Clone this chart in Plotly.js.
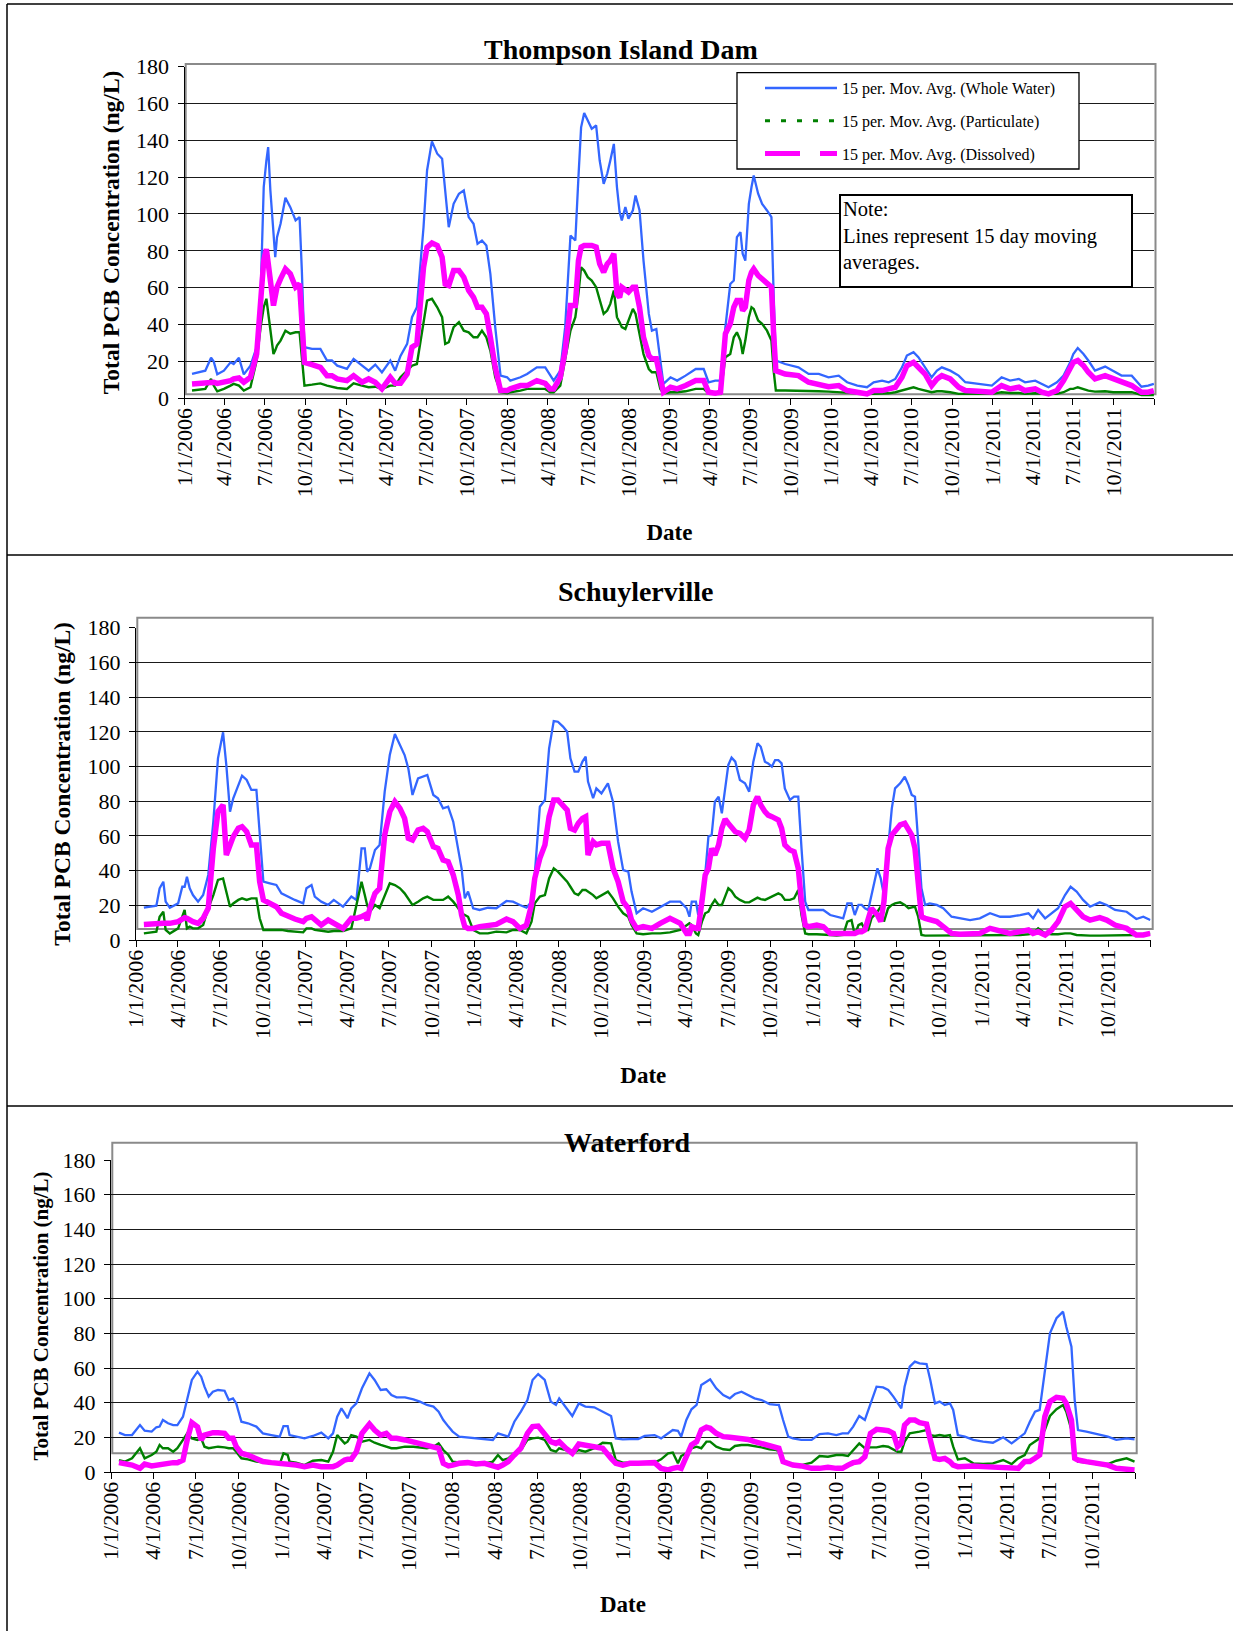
<!DOCTYPE html>
<html>
<head>
<meta charset="utf-8">
<script src="https://cdn.plot.ly/plotly-3.0.1.min.js"></script>
<style>html,body{margin:0;padding:0;background:#fff;}</style>
</head>
<body>
<div id="chart" style="width:1233px;height:1631px;"></div>
<script>
// ---------------- DATA ----------------
// Thompson Island Dam
const tidDates = [
'2006-01-18','2006-02-17','2006-03-02','2006-03-08','2006-03-16','2006-03-31','2006-04-15','2006-04-22','2006-05-04','2006-05-15',
'2006-05-30','2006-06-13','2006-06-22','2006-06-29','2006-07-05','2006-07-09','2006-07-14','2006-07-21','2006-07-25','2006-07-29',
'2006-08-06','2006-08-17','2006-08-28','2006-09-09','2006-09-18','2006-09-23','2006-09-29','2006-10-16','2006-11-04','2006-11-19',
'2006-11-30','2006-12-12',
'2007-01-03','2007-01-18','2007-02-06','2007-02-21','2007-03-08','2007-03-23','2007-04-11','2007-04-22','2007-05-04','2007-05-19',
'2007-05-30','2007-06-10','2007-06-25','2007-07-03','2007-07-14','2007-07-26','2007-08-06','2007-08-13','2007-08-21','2007-09-01',
'2007-09-13','2007-09-24','2007-10-05','2007-10-16','2007-10-25','2007-11-04','2007-11-14','2007-11-23','2007-12-04','2007-12-16',
'2007-12-31',
'2008-01-07','2008-01-30','2008-02-14','2008-03-07','2008-03-26','2008-04-06','2008-04-14','2008-04-29','2008-05-10','2008-05-22',
'2008-06-02','2008-06-09','2008-06-15','2008-06-22','2008-06-30','2008-07-09','2008-07-19','2008-07-27','2008-08-05','2008-08-13',
'2008-08-20','2008-08-28','2008-09-04','2008-09-10','2008-09-15','2008-09-23','2008-09-30','2008-10-10','2008-10-16','2008-10-25',
'2008-11-03','2008-11-15','2008-11-22','2008-12-02','2008-12-11','2008-12-18',
'2009-01-03','2009-01-18','2009-02-06','2009-03-01','2009-03-19','2009-03-30','2009-04-14','2009-04-26','2009-05-07','2009-05-18',
'2009-05-26','2009-06-02','2009-06-10','2009-06-15','2009-06-21','2009-06-29','2009-07-05','2009-07-10','2009-07-20','2009-07-29',
'2009-08-09','2009-08-19','2009-08-24','2009-08-29','2009-09-19','2009-10-19','2009-11-11','2009-12-04','2009-12-26',
'2010-01-18','2010-02-06','2010-03-01','2010-03-23','2010-04-07','2010-04-26','2010-05-11','2010-05-26','2010-06-10','2010-06-21',
'2010-07-06','2010-07-17','2010-08-01','2010-08-16','2010-08-28','2010-09-08','2010-09-27','2010-10-16','2010-10-31','2010-11-30',
'2010-12-30',
'2011-01-21','2011-02-09','2011-03-01','2011-03-15','2011-04-07','2011-04-22','2011-05-07','2011-05-26','2011-06-10','2011-06-25',
'2011-07-02','2011-07-12','2011-07-25','2011-08-05','2011-08-20','2011-09-12','2011-09-30','2011-10-19','2011-11-11','2011-12-03',
'2011-12-18','2011-12-31'
];
const tidWhole = [
13.2,15,22,20,13,15,19.5,18.6,22,13, 17.7,27.7,56.6,114.6,129,136.3,112.8,89,76.6,87.4, 94.7,108.8,103.7,96.5,98.3,70,27.7,26.8,26.8,20.5, 20.5,17.7,
16,21.4,17.7,15,18.3,14.1,20.5,15,23,29.5, 44,49.4,92.8,123.6,139.4,132.7,130,111,92.8,105.5, 111,112.8,98.3,94.7,83.8,85.6,82.9,67.5,38.6,12.3, 11.4,
9.6,11.4,13.2,16.8,16.8,12.3,9.6,15,38.6,88.3, 85.6,120,147,154.8,150.8,146.2,148,129,116.4,121.8, 129,138,114.6,101,96.5,103.7,97.4,102,110,102, 74.7,45.8,36.7,37.6,20.5,7.8,
11.4,9.6,12.3,15.9,15.9,8.7,9.6,9.6,38.6,62, 63.9,87.4,90.1,78.4,74.7,105.5,114.6,120.9,111,105.5, 101.9,98.3,56.6,20.5,18.6,16.8,13.2,13.2,11.4,
12.3,8.7,6.9,6,8.7,9.6,8.7,10.5,16.8,23.2, 25,22.3,16.8,11.4,15,16.8,15,12.3,8.7,7.8, 6.9,
11.4,9.6,10.5,8.7,9.6,7.8,6,8.7,12.3,19.5, 24,27.3,24,20.5,15,17.2,15,12.3,12.3,6.3, 6.9,7.8
];
const tidParticulate = [
4.2,5.1,10.5,6.9,3.8,5.1,6.9,7.8,6.9,4.2, 6,20.5,38.6,49.4,54,45.8,38.6,24,26,28.6, 31.3,36.7,35,35.8,35.8,20.5,6.9,7.4,8.1,6.9, 6.3,5.6,
5.1,8.1,6.9,6,6.3,5.1,6.9,6.9,11.4,15, 17.7,18.6,42.2,53,54,49.4,44,29.5,30.4,38.6, 41.3,36.7,35.8,33.1,33.1,36.7,33.1,25.9,11.4,3.3, 2.7,
3.3,4.2,5.1,5.1,5.1,3.3,3.3,6.9,20.5,36.7, 44,56.6,71.1,69.3,65.7,63.9,60.3,53,45.8,47.6, 51.2,58.5,44,41.3,38.6,37.6,42.2,48.5,45.8,35, 24,15.9,14.1,14.1,5.1,2.7,
3.3,3.3,3.8,5.1,5.1,2.7,2.4,2.4,22.3,24, 33.1,35.8,31.3,24,31.3,44,49.4,48.5,42.2,40.4, 36.7,31.3,15,4.2,4.2,4.2,3.8,3.8,3.6,
3.3,2.7,2.4,2.4,2.4,2.4,2.7,3.3,4.2,5.1, 6,5.1,4.2,3.3,3.8,3.8,3.3,2.4,2.4,2.4, 2.4,
3.3,2.9,2.9,2.4,2.7,2.4,2.4,2.4,3.3,5.1, 5.1,6,5.1,4.2,3.6,3.8,3.3,3.3,3.3,1.8, 1.8,1.8
];
const tidDissolved = [
7.8,8.7,9.2,8.7,8.1,8.7,9.6,10.5,11,8.7, 11.4,24,56.6,74.7,81,74.7,64,50.3,54.8,60.3, 64.8,70.2,67.5,60.3,62,38.6,19.5,18.3,16.8,12.3, 12.3,10.5,
9.6,12.3,8.7,10.5,8.7,5.1,11.4,8.1,8.1,13.2, 27.7,29.5,71,82,84.2,82.9,76.6,62,61.2,69.3, 69.3,65.7,58.5,54.8,49.4,49.4,45.8,33.1,16.8,4.2, 4.2,
5.1,6.9,6.9,9.6,8.1,5.1,5.1,11.4,25.9,50.3, 50.3,74.7,82,82.9,82.9,82.9,82,72.9,68.4,72.9, 74.7,78.4,56.6,54.8,60.3,58.5,57.6,60.3,60.3,49.4, 33.1,23.2,21.4,21.4,9.6,3.3,
6,5.1,6.9,9.6,9.6,3.3,2.7,3.3,35,40.4, 49.4,53,53,47.6,49.4,64,68.4,70.2,66.6,64.8, 63,60.3,35,15,13.2,12.3,8.7,7.8,6.3,
6.9,4.2,3.3,2.4,4.2,4.2,5.1,6,11.4,17.7, 19.5,16.8,13.2,6.9,10.5,12.3,10.5,6,4.2,3.8, 3.3,
6.9,5.1,6,4.2,5.1,3.3,2.4,4.2,9.6,15.9, 19.5,20.5,17.7,14.1,10.5,12.3,10.5,8.7,6.9,3.3, 3.3,4.2
];

// Schuylerville
const schDates = [
'2006-01-18','2006-02-14','2006-02-21','2006-03-01','2006-03-06','2006-03-15','2006-04-02','2006-04-11','2006-04-16','2006-04-21',
'2006-04-27','2006-05-04','2006-05-15','2006-05-26','2006-06-06','2006-06-17','2006-06-27','2006-07-08','2006-07-15','2006-07-23',
'2006-07-30','2006-08-10','2006-08-18','2006-08-28','2006-09-07','2006-09-18','2006-09-25','2006-10-03','2006-10-17','2006-10-31',
'2006-11-11','2006-11-25','2006-12-10','2006-12-28',
'2007-01-04','2007-01-15','2007-01-22','2007-02-05','2007-02-20','2007-03-04','2007-03-24','2007-04-11','2007-04-22','2007-05-03',
'2007-05-10','2007-05-15','2007-05-21','2007-06-01','2007-06-11','2007-06-22','2007-07-03','2007-07-14','2007-07-25','2007-08-04',
'2007-08-12','2007-08-21','2007-09-02','2007-09-13','2007-09-22','2007-10-05','2007-10-15','2007-10-26','2007-11-06','2007-11-17',
'2007-11-28','2007-12-05','2007-12-12','2007-12-19','2007-12-30',
'2008-01-13','2008-01-31','2008-02-18','2008-03-11','2008-03-25','2008-04-09','2008-04-23','2008-05-04','2008-05-11','2008-05-22',
'2008-06-02','2008-06-11','2008-06-21','2008-06-30','2008-07-11','2008-07-20','2008-07-27','2008-08-05','2008-08-13','2008-08-22',
'2008-08-29','2008-09-03','2008-09-14','2008-09-21','2008-10-02','2008-10-16','2008-10-27','2008-11-07','2008-11-18','2008-11-29',
'2008-12-06','2008-12-17','2008-12-31',
'2009-01-19','2009-02-06','2009-02-27','2009-03-21','2009-04-04','2009-04-10','2009-04-15','2009-04-24','2009-04-29','2009-05-07',
'2009-05-14','2009-05-21','2009-05-28','2009-06-04','2009-06-12','2009-06-19','2009-06-26','2009-07-03','2009-07-10','2009-07-18',
'2009-07-28','2009-08-08','2009-08-17','2009-08-26','2009-09-04','2009-09-11','2009-09-20','2009-09-27','2009-10-05','2009-10-12',
'2009-10-19','2009-10-26','2009-11-02','2009-11-13','2009-11-22','2009-12-01','2009-12-08','2009-12-16','2009-12-23',
'2010-01-10','2010-01-24','2010-02-08','2010-02-22','2010-03-08','2010-03-17','2010-03-26','2010-04-02','2010-04-10','2010-04-17',
'2010-04-24','2010-05-01','2010-05-08','2010-05-21','2010-05-28','2010-06-04','2010-06-13','2010-06-21','2010-06-28','2010-07-09',
'2010-07-19','2010-07-27','2010-08-03','2010-08-10','2010-08-17','2010-08-24','2010-09-01','2010-09-11','2010-09-26','2010-10-10',
'2010-10-28','2010-11-15','2010-12-07','2010-12-28',
'2011-01-19','2011-02-10','2011-03-03','2011-03-25','2011-04-12','2011-04-22','2011-05-03','2011-05-18','2011-06-01','2011-06-15',
'2011-06-30','2011-07-12','2011-07-25','2011-08-08','2011-08-23','2011-09-13','2011-09-28','2011-10-16','2011-11-10','2011-12-01',
'2011-12-16','2011-12-31'
];
const schWhole = [
18.6,19.8,29.8,33.6,22.1,18.6,21.1,30.7,30.7,36.5, 29.8,25.9,22.1,25.9,37.5,68.2,104.7,119.7,100.9,74, 81.7,89.3,94.7,92.2,86.5,86.5,62.4,33.6,32.7,31.7, 26.9,25,23.1,21.1,
29.8,31.7,25,22.1,20.2,23.1,19.2,25,23.1,52.8, 52.8,39.4,41.3,51.9,54.8,85.5,106.6,118.7,112.4,106.6, 98.9,83.6,93.2,94.1,95.1,83.6,81.7,75.9,76.8,68.2, 52.8,41.3,24,27.9,18.3,
17.3,18.6,18.3,22.5,22.1,20.2,18.6,22.1,37.5,76.8, 80.7,110.5,126.2,125.8,123,120,104.7,97,97,102.8, 105.7,91.3,81.7,87.4,84.5,90.3,79.7,56.7,40.3,39.4, 27.9,15.4,18.3,
16.3,19.2,22.1,22.1,18.3,13.4,22.1,22.1,14.4,25.9, 37.5,59.6,60.5,79.7,82.6,73,87.4,100.9,105.1,102.8, 92.2,90.3,85.5,102.8,113.4,111.4,102.8,101.8,99.9,103.7, 103.7,101.8,87.4,80.7,82.6,82.6,52.8,22.1,17.3,
17.3,17.3,14.4,13.4,12.5,21.1,21.1,14.4,20.2,20.2, 18.3,17.3,25.9,41.3,35.5,25.9,52.8,75.9,87.4,90.3, 94.1,89.3,83.6,82.6,56.7,29.8,20.2,21.1,20.2,18.3, 13.4,12.5,11.5,12.5,
15.4,13.4,13.4,14.4,15.4,12.5,17.3,12.5,15.4,18.3, 25.9,30.7,27.9,23.1,19.2,21.7,20.2,17.3,16.3,12.1, 13.4,11.5
];
const schParticulate = [
3.8,4.8,13.4,16.3,5.8,3.8,6.7,13.4,17.3,6.7, 7.7,6.7,6.7,8.6,18.3,25.9,34.6,35.5,27.9,19.2, 21.1,23.1,24,23.1,24,24,12.5,5.8,5.8,5.8, 5.8,5.2,4.8,4.4,
6.7,6.7,5.8,5.2,4.8,5.2,5.2,6.7,20.2,33.6, 25.9,20.2,16.3,20.2,18.3,25,32.7,31.7,29.8,26.9, 24,20.2,22.1,24,25,23.1,23.1,23.1,25,22.1, 18.3,15.4,14.4,13.4,5.8,
3.8,3.8,4.8,4.4,5.8,5.8,3.8,10.6,21.1,25, 25.9,35.5,41.3,39.4,36.5,33.6,30.7,26.9,25.9,28.8, 28.8,27.9,25.9,24,25.9,27.9,24,19.2,15.4,13.4, 8.6,3.8,3.3,
3.8,3.8,4.4,5.8,8.6,9.6,8.6,3.8,2.9,10.6, 15.4,16.3,20.2,23.1,20.2,20.2,25,29.8,28.2,25, 23.1,21.7,21.7,23.1,24.4,23.6,23.1,24,25,25.9, 26.9,25.9,23.1,23.1,24,28.8,14.4,3.8,3.3,
3.3,3.3,2.9,2.5,2.9,10.6,11.5,2.9,8.6,9.6, 5.8,5.8,12.5,16.3,19.2,10.6,18.3,20.2,21.1,21.7, 20.2,18.3,18.6,19.2,13.4,2.9,2.5,2.5,2.5,2.5, 2.5,2.5,2.5,2.5,
2.9,2.5,2.5,2.9,3.3,3.8,6.7,3.8,3.3,3.3, 3.8,3.8,2.9,2.5,2.5,2.5,2.5,2.5,2.5,2.9, 3.3,3.8
];
const schDissolved = [
9,9.6,10.2,9.6,9.6,9.6,10.6,12.5,12.9,12.5, 11.5,10.6,9.6,12.5,18.3,52.8,74,77.8,49,54.8, 59.6,64.4,65.3,62.4,54.8,54.8,33.6,23.1,21.1,19.2, 15.4,13.4,12.1,10.6,
12.5,13.4,11.5,8.6,11.5,9.6,6.7,12.5,12.5,13.4, 14.4,11.5,18.3,26.9,29.8,60.5,74,79.7,75.9,70.1, 58.6,57.6,63.4,64.4,62.4,53.8,52.8,46.1,45.1,37.5, 25.9,14.4,7.7,6.7,6.7,
7.7,8.6,9,12.1,10.6,6.7,8.6,20.2,35.5,47.1, 54.8,71.1,80.7,80.7,76.8,74.9,64.4,63.4,67.2,70.1, 71.1,49,56.7,54.8,55.7,55.7,41.3,33.6,22.1,18.3, 11.5,6.7,7.7,
6.7,9.6,12.5,9.6,3.8,3.8,7.7,6.7,6.7,22.1, 37.5,41.3,52.8,49,54.8,64.4,69.7,67.2,64.4,62.4, 61.5,58.6,63.4,77.8,82.6,77.8,74,72,71.1,70.1, 69.2,64.4,54.8,51.9,50.9,41.3,22.1,8.6,7.7,
8.6,7.7,3.8,3.8,3.8,3.8,3.8,3.8,4.8,4.8, 5.8,12.5,18.3,14.4,10.6,22.1,52.8,60.5,62.4,66.3, 67.2,63.4,60.5,52.8,33.6,13.4,12.5,11.5,10.6,7.7, 3.8,3.3,3.3,3.8,
6.7,4.8,3.8,4.8,5.8,3.8,4.8,2.9,5.8,10.6, 19.2,21.1,17.3,13.4,11.5,12.9,11.5,8.6,6.7,2.9, 2.9,3.8
];

// Waterford
const wfdDates = [
'2006-01-18','2006-01-31','2006-02-15','2006-03-04','2006-03-14','2006-03-29','2006-04-08','2006-04-15','2006-04-22','2006-05-03',
'2006-05-14','2006-05-23','2006-06-04','2006-06-13','2006-06-23','2006-07-05','2006-07-13','2006-07-20','2006-07-29','2006-08-07',
'2006-08-18','2006-09-01','2006-09-10','2006-09-19','2006-09-26','2006-10-07','2006-10-21','2006-11-08','2006-11-22','2006-12-10',
'2006-12-28',
'2007-01-05','2007-01-14','2007-01-18','2007-02-01','2007-02-19','2007-03-09','2007-03-27','2007-04-11','2007-04-21','2007-04-30',
'2007-05-09','2007-05-16','2007-05-22','2007-05-30','2007-06-10','2007-06-22','2007-07-08','2007-07-19','2007-08-01','2007-08-13',
'2007-08-24','2007-09-04','2007-09-22','2007-10-10','2007-10-24','2007-11-08','2007-11-22','2007-12-03','2007-12-13','2007-12-24',
'2008-01-02','2008-01-16','2008-02-03','2008-02-21','2008-03-10','2008-03-28','2008-04-08','2008-04-18','2008-04-30','2008-05-13',
'2008-05-27','2008-06-10','2008-06-21','2008-07-03','2008-07-17','2008-07-30','2008-08-10','2008-08-17','2008-08-31','2008-09-14',
'2008-09-28','2008-10-12','2008-10-31','2008-11-18','2008-12-06','2008-12-16','2008-12-31',
'2009-01-15','2009-02-02','2009-02-16','2009-03-09','2009-03-23','2009-04-07','2009-04-17','2009-04-28','2009-05-05','2009-05-16',
'2009-05-27','2009-06-07','2009-06-17','2009-06-28','2009-07-06','2009-07-19','2009-08-03','2009-08-17','2009-08-28','2009-09-11',
'2009-09-25','2009-10-09','2009-10-24','2009-11-10','2009-11-25','2009-11-30','2009-12-09','2009-12-20','2009-12-30',
'2010-01-17','2010-02-08','2010-02-25','2010-03-15','2010-04-02','2010-04-15','2010-04-27','2010-05-08','2010-05-21','2010-06-02',
'2010-06-14','2010-06-27','2010-07-11','2010-07-22','2010-08-02','2010-08-11','2010-08-19','2010-08-26','2010-09-06','2010-09-17',
'2010-09-27','2010-10-12','2010-10-20','2010-10-30','2010-11-09','2010-11-20','2010-12-01','2010-12-08','2010-12-18',
'2011-01-02','2011-01-20','2011-02-10','2011-03-03','2011-03-25','2011-04-12','2011-04-26','2011-05-10','2011-05-21','2011-06-01',
'2011-06-11','2011-06-22','2011-07-03','2011-07-17','2011-07-31','2011-08-07','2011-08-18','2011-08-25','2011-09-01','2011-09-19',
'2011-10-10','2011-11-04','2011-11-22','2011-12-14','2011-12-31'
];
const wfdWhole = [
22.7,21.3,21.3,27.1,23.8,23.3,25.8,26.2,30,28.1, 27.1,27.1,31.9,42.5,53.1,57.9,55,49.2,43.5,46.3, 47.3,46.9,41.5,42.5,39.6,29,28.1,26.2,22.3,21.3, 20.4,
26.5,26.5,21.3,20.4,19.4,20.8,22.7,19.4,22.3,31.9, 36.7,33.8,31,36.7,39.6,48.3,56.9,53.1,47.3,47.7, 44.4,43.1,43.1,41.9,40.6,38.7,37.7,34.8,30,26.2,
23.3,20.4,20,19.4,18.8,18.5,22.3,21.3,20.4,29, 34.8,41.5,53.1,56.5,53.1,40.6,38.7,42.5,37.7,32.3, 39.6,37.7,37.3,34.8,32.3,19.4,18.8,
19,19,20.8,21.3,19.4,22.3,24.2,23.8,20.4,30, 36.2,38.7,50.2,52.1,53.5,48.3,44.4,42.5,45,46.3, 44.4,42.5,41.5,39.2,38.7,38.7,30,20.4,19.4,
18.5,18.5,21.9,22.3,21.3,22.3,22.3,26.2,32.3,30, 39.6,49.2,48.8,47.3,43.5,39.6,36.7,49.2,60.8,63.7, 62.7,62.3,53.1,39.6,40.6,38.7,39.6,35.8,21.3,
20.4,18.5,17.5,16.9,20,16.5,19.4,22.3,29,34.8, 35.8,56.9,80,88.7,92.5,83.8,72.3,41.5,24.2,23.3, 21.9,20.4,18.5,19.4,18.8
];
const wfdParticulate = [
6.9,6,7.9,13.7,7.9,9.8,11.7,15.6,13.7,13.7, 11.7,13.7,18.5,22.3,19.4,18.5,19.4,14.6,13.7,14.2, 14.6,14.2,13.7,13.7,11.7,7.9,7.3,6,5.4,5, 4.6,
10.8,9.8,6,5.4,4,6.5,6.9,6,11.7,21.3, 18.5,16.5,17.5,21.3,20.4,17.5,18.5,16.9,15.6,14.6, 13.7,13.7,14.6,14.6,14.2,13.7,14.6,16.5,12.7,9.8,
6,5.4,5,4.6,5,6,9.8,6.9,7.9,10.8, 12.7,18.5,19.4,19.8,18.5,12.7,11.7,13.7,12.7,10.8, 12.7,11.7,13.7,16.9,16.5,6.9,5.4,
5.4,5.4,5.8,5.4,7.3,10.8,11.2,5,9.2,10.8, 13.7,14.6,13.7,17.5,17.5,14.6,13.1,12.7,15,15.6, 15.6,15,14.2,13.1,12.7,11.7,6,4.6,4,
4,5.4,9.2,8.8,9.8,9.8,9.2,12.7,16.5,13.7, 14.2,14.2,15,14.6,13.1,11.7,11.7,17.5,22.3,22.7, 23.3,24.2,21.3,20.8,21.3,20.8,21.3,14.6,7.3,
7.9,5,4.6,5,6.9,4.6,7.9,9.8,15.6,17.5, 19.4,24.2,32.3,36.2,38.7,34.8,24.2,9.8,6,5.4, 4.6,4.6,6.5,7.9,6
];
const wfdDissolved = [
5.4,5,4,2.1,4.6,3.5,4,4,4.6,5, 5.4,5.4,6.9,18.5,28.5,26,18.5,21.3,22.3,22.7, 22.7,22.3,19.4,19.4,14.6,10.8,9.8,7.9,6,5.4, 5,
4.6,5,5,4,3.1,4,3.1,3.1,3.1,4, 6,6.9,7.3,7.3,11.7,22.3,27.7,24.2,21.3,22.3, 19.4,19.4,18.5,17.5,16.5,15.6,14.6,13.7,5,3.5,
4,5,5.4,4.6,5,3.5,2.7,4,6,9.8, 13.7,22.3,26.2,26.5,22.3,17.5,16.5,17.5,13.7,10.8, 16.2,15.6,14.2,13.7,7.9,5,4,
5,5,5,5.4,2.1,1.2,2.1,2.7,2.1,9.8, 15.6,17.5,24.2,25.8,25.2,22.3,20.4,20,19.8,19.4, 18.8,17.5,16.5,15,14.2,13.7,6,4.6,4,
3.5,2.1,2.1,2.7,2.1,2.1,4,5.4,6,8.8, 22.3,24.6,24.2,23.8,22.3,14.6,16.5,27.1,30,30, 28.5,27.7,18.5,7.9,7.3,7.9,6,4,3.1,
3.5,3.5,3.1,2.7,2.1,2.1,2.1,6,6,7.9, 9.8,31.9,40.6,43.1,42.5,39.6,30,7.9,6.9,6, 5,4,2.1,1.2,1.2
];

// Axis ticks and labels
const xTickDates = [
'2006-01-01','2006-04-01','2006-07-01','2006-10-01','2007-01-01','2007-04-01','2007-07-01','2007-10-01',
'2008-01-01','2008-04-01','2008-07-01','2008-10-01','2009-01-01','2009-04-01','2009-07-01','2009-10-01',
'2010-01-01','2010-04-01','2010-07-01','2010-10-01','2011-01-01','2011-04-01','2011-07-01','2011-10-01','2012-01-01'
];
const xTickLabels = [
'1/1/2006','4/1/2006','7/1/2006','10/1/2006','1/1/2007','4/1/2007','7/1/2007','10/1/2007',
'1/1/2008','4/1/2008','7/1/2008','10/1/2008','1/1/2009','4/1/2009','7/1/2009','10/1/2009',
'1/1/2010','4/1/2010','7/1/2010','10/1/2010','1/1/2011','4/1/2011','7/1/2011','10/1/2011',''
];
const yTicks = [0,20,40,60,80,100,120,140,160,180];
const seriesNames = ['15 per. Mov. Avg. (Whole Water)','15 per. Mov. Avg. (Particulate)','15 per. Mov. Avg. (Dissolved)'];
const panelTitles = ['Thompson Island Dam','Schuylerville','Waterford'];

// ---------------- STYLE / LAYOUT ----------------
const W = 1233, H = 1631;
const FONT = 'Liberation Serif, Times New Roman, serif';
const BLUE = '#3366FF', GREEN = '#008000', MAGENTA = '#FF00FF';
const px = v => v / W;
const py = v => 1 - v / H;

const panels = [
  {dates: tidDates, whole: tidWhole, part: tidParticulate, diss: tidDissolved,
   xPix: [184.5, 1154.3], yPix: [398.3, 66.5], frame: [185.7, 64, 1155.5, 394.3],
   title: [621, 49], ytFont: 23.5, ytStand: 9, xtStand: 27},
  {dates: schDates, whole: schWhole, part: schParticulate, diss: schDissolved,
   xPix: [136, 1150.7], yPix: [940, 627.7], frame: [137.3, 617.7, 1152.7, 929],
   title: [636, 591], ytFont: 23.5, ytStand: 9.5, xtStand: 28},
  {dates: wfdDates, whole: wfdWhole, part: wfdParticulate, diss: wfdDissolved,
   xPix: [111, 1135], yPix: [1472, 1160], frame: [112.3, 1142.7, 1136.7, 1453.3],
   title: [626.5, 1142.5], ytFont: 21, ytStand: 7.5, xtStand: 25}
];

const traces = [];
const layout = {
  width: W, height: H,
  margin: {l: 0, r: 0, t: 0, b: 0},
  paper_bgcolor: '#ffffff',
  plot_bgcolor: 'rgba(0,0,0,0)',
  font: {family: FONT, color: '#000', size: 20},
  showlegend: true,
  hovermode: false,
  legend: {
    x: px(760), y: py(71), xanchor: 'left', yanchor: 'top',
    bgcolor: 'rgba(0,0,0,0)', borderwidth: 0,
    font: {family: FONT, size: 16, color: '#000'},
    traceorder: 'grouped', tracegroupgap: 9, itemwidth: 72
  },
  shapes: [],
  annotations: []
};

panels.forEach((p, i) => {
  const n = i === 0 ? '' : String(i + 1);
  const xa = 'x' + n, ya = 'y' + n;
  traces.push({x: p.dates, y: p.whole, xaxis: xa, yaxis: ya, type: 'scatter', mode: 'lines',
    name: seriesNames[0], showlegend: false, line: {color: BLUE, width: 2.3}});
  traces.push({x: p.dates, y: p.part, xaxis: xa, yaxis: ya, type: 'scatter', mode: 'lines',
    name: seriesNames[1], showlegend: false, line: {color: GREEN, width: 2.4}});
  traces.push({x: p.dates, y: p.diss, xaxis: xa, yaxis: ya, type: 'scatter', mode: 'lines',
    name: seriesNames[2], showlegend: false, line: {color: MAGENTA, width: 5.5}});

  layout['xaxis' + n] = {
    type: 'date', anchor: ya, domain: [px(p.xPix[0]), px(p.xPix[1])],
    range: ['2006-01-01', '2012-01-01'],
    tickmode: 'array', tickvals: xTickDates, ticktext: xTickLabels, tickangle: -90,
    ticks: 'outside', ticklen: 6, tickwidth: 1, tickcolor: '#000',
    ticklabelstandoff: -6,
    tickfont: {family: FONT, size: 22, color: '#000'},
    showline: true, linecolor: '#000', linewidth: 1,
    showgrid: false, zeroline: false, fixedrange: true,
    title: {text: 'Date', standoff: p.xtStand, font: {family: FONT, size: 23, color: '#000', weight: 'bold'}}
  };
  layout['yaxis' + n] = {
    anchor: xa, domain: [py(p.yPix[0]), py(p.yPix[1])],
    range: [0, 180], tickmode: 'array', tickvals: yTicks,
    ticks: 'outside', ticklen: 6, tickwidth: 1, tickcolor: '#000',
    ticklabelstandoff: 4,
    tickfont: {family: FONT, size: 22, color: '#000'},
    showline: true, linecolor: '#000', linewidth: 1,
    showgrid: true, gridcolor: '#1a1a1a', gridwidth: 1, zeroline: false, fixedrange: true,
    title: {text: 'Total PCB Concentration (ng/L)', standoff: p.ytStand,
            font: {family: FONT, size: p.ytFont, color: '#000', weight: 'bold'}}
  };
  // plot-area frame
  layout.shapes.push({type: 'rect', xref: 'paper', yref: 'paper', layer: 'below',
    x0: px(p.frame[0]), y0: py(p.frame[1]), x1: px(p.frame[2]), y1: py(p.frame[3]),
    line: {color: '#8a8a8a', width: 2}, fillcolor: 'rgba(0,0,0,0)'});
  // chart title
  layout.annotations.push({xref: 'paper', yref: 'paper', x: px(p.title[0]), y: py(p.title[1]),
    xanchor: 'center', yanchor: 'middle', showarrow: false, text: panelTitles[i],
    font: {family: FONT, size: 28, color: '#000', weight: 'bold'}});
});

// legend-only entries (sample styles as in the reference legend)
traces.push({x: [null], y: [null], xaxis: 'x', yaxis: 'y', type: 'scatter', mode: 'lines',
  name: seriesNames[0], legendgroup: 'g1', line: {color: BLUE, width: 2.5}});
traces.push({x: [null], y: [null], xaxis: 'x', yaxis: 'y', type: 'scatter', mode: 'lines',
  name: seriesNames[1], legendgroup: 'g2', line: {color: GREEN, width: 3, dash: '5px,11px'}});
traces.push({x: [null], y: [null], xaxis: 'x', yaxis: 'y', type: 'scatter', mode: 'lines',
  name: seriesNames[2], legendgroup: 'g3', line: {color: MAGENTA, width: 5, dash: '35px,20px'}});

// legend box (drawn as a white, black-edged rectangle behind the legend)
layout.shapes.push({type: 'rect', xref: 'paper', yref: 'paper', layer: 'above',
  x0: px(737), y0: py(72.7), x1: px(1079), y1: py(169),
  line: {color: '#000', width: 1.3}, fillcolor: '#ffffff'});

// note box
layout.annotations.push({xref: 'paper', yref: 'paper', x: px(839.3), y: py(194.3),
  xanchor: 'left', yanchor: 'top', showarrow: false, align: 'left', valign: 'top',
  width: 286, height: 86, borderpad: 2, bordercolor: '#000', borderwidth: 2, bgcolor: '#ffffff',
  text: 'Note:<br>Lines represent 15 day moving<br>averages.',
  font: {family: FONT, size: 20.5, color: '#000'}});

// page frame and panel separators
const sepLine = (x0, y0, x1, y1) => ({type: 'line', xref: 'paper', yref: 'paper', layer: 'above',
  x0: px(x0), y0: py(y0), x1: px(x1), y1: py(y1), line: {color: '#000', width: 1.5}});
layout.shapes.push(sepLine(7, 4, W, 4));
layout.shapes.push(sepLine(7, 4, 7, H));
layout.shapes.push(sepLine(7, 555, W, 555));
layout.shapes.push(sepLine(7, 1106, W, 1106));

Plotly.newPlot('chart', traces, layout, {displayModeBar: false, staticPlot: true});
</script>
</body>
</html>
